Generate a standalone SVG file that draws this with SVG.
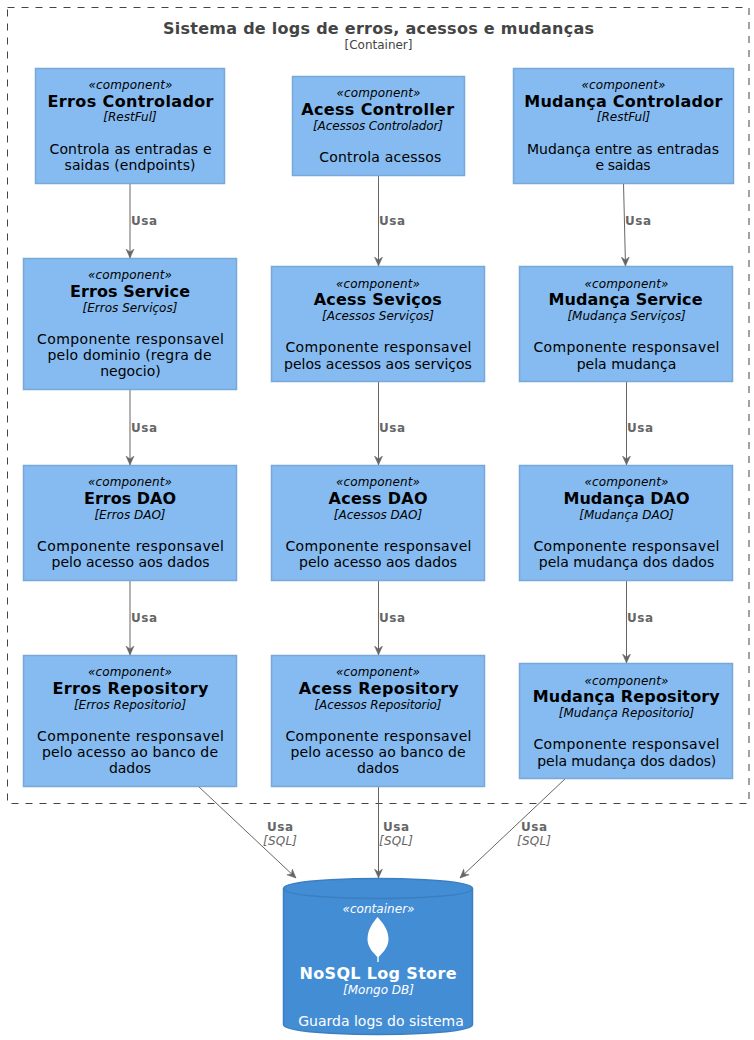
<svg xmlns="http://www.w3.org/2000/svg" width="754" height="1040" viewBox="0 0 754 1040">
<style>
text{font-family:"DejaVu Sans",sans-serif;text-anchor:middle;fill:#000}
.b{fill:#85BBF0;stroke:#78A8D8;stroke-width:1.5}
.s{font-size:12px;font-style:italic}
.n{font-size:16px;font-weight:bold}
.d{font-size:14px}
.c{fill:none;stroke:#666;stroke-width:1}
.u{font-size:12px;font-weight:bold;fill:#666;text-anchor:start}
.q{font-size:12px;font-style:italic;fill:#666;text-anchor:start}
</style>
<defs>
<marker id="a" markerUnits="userSpaceOnUse" markerWidth="10" markerHeight="10" refX="9" refY="5" orient="auto"><path d="M0 1 L9 5 L0 9 L3 5 Z" fill="#666" stroke="#666" stroke-width="0.5"/></marker>
</defs>
<g id="boundary">
<rect x="7.5" y="7.5" width="741.5" height="796" fill="none" stroke="#444" stroke-width="1" stroke-dasharray="7 7"/>
<text x="378.500" y="34" font-size="16" font-weight="bold" textLength="431" style="fill:#444">Sistema de logs de erros, acessos e mudanças</text>
<text x="378.500" y="49" font-size="12" style="fill:#444">[Container]</text>
</g>
<g id="connectors">
<path class="c" marker-end="url(#a)" d="M130 183V258"/>
<path class="c" marker-end="url(#a)" d="M130 389V465"/>
<path class="c" marker-end="url(#a)" d="M130 580V655"/>
<path class="c" marker-end="url(#a)" d="M378.500 175V266"/>
<path class="c" marker-end="url(#a)" d="M378.500 381V465"/>
<path class="c" marker-end="url(#a)" d="M378.500 580V655"/>
<path class="c" marker-end="url(#a)" d="M623.500 183L625.500 266"/>
<path class="c" marker-end="url(#a)" d="M626.500 381V465"/>
<path class="c" marker-end="url(#a)" d="M626.500 580V663"/>
<path class="c" marker-end="url(#a)" d="M198 786L296 878"/>
<path class="c" marker-end="url(#a)" d="M378.500 786V878"/>
<path class="c" marker-end="url(#a)" d="M566 778L460 878"/>
<text class="u" x="131" y="225" textLength="26">Usa</text>
<text class="u" x="131" y="432" textLength="26">Usa</text>
<text class="u" x="131" y="622" textLength="26">Usa</text>
<text class="u" x="379" y="225" textLength="26">Usa</text>
<text class="u" x="379" y="432" textLength="26">Usa</text>
<text class="u" x="379" y="622" textLength="26">Usa</text>
<text class="u" x="625" y="225" textLength="26">Usa</text>
<text class="u" x="627" y="432" textLength="26">Usa</text>
<text class="u" x="627" y="622" textLength="26">Usa</text>
<text class="u" x="267" y="831" textLength="26">Usa</text>
<text class="q" x="263" y="845" textLength="34">[SQL]</text>
<text class="u" x="383" y="831" textLength="26">Usa</text>
<text class="q" x="379" y="845" textLength="34">[SQL]</text>
<text class="u" x="521" y="831" textLength="26">Usa</text>
<text class="q" x="517" y="845" textLength="34">[SQL]</text>
</g>
<g id="erros-controlador"><rect class="b" x="35.500" y="68.500" width="189" height="115"/>
<text class="s" x="130.500" y="89" textLength="84">«component»</text><text class="n" x="130.500" y="107" textLength="166">Erros Controlador</text><text class="s" x="130" y="121">[RestFul]</text><text class="d" x="130.500" y="154" textLength="162">Controla as entradas e</text><text class="d" x="130" y="170" textLength="131">saidas (endpoints)</text></g>
<g id="acess-controller"><rect class="b" x="292.500" y="76.500" width="172" height="99"/>
<text class="s" x="378.500" y="97" textLength="84">«component»</text><text class="n" x="377.700" y="115" textLength="153">Acess Controller</text><text class="s" x="378" y="130" textLength="130">[Acessos Controlador]</text><text class="d" x="380.300" y="162" textLength="122">Controla acessos</text></g>
<g id="mudanca-controlador"><rect class="b" x="513.500" y="68.500" width="220" height="115"/>
<text class="s" x="623.500" y="89" textLength="84">«component»</text><text class="n" x="623.300" y="107" textLength="198">Mudança Controlador</text><text class="s" x="623.500" y="121">[RestFul]</text><text class="d" x="623" y="154" textLength="192">Mudança entre as entradas</text><text class="d" x="623" y="170" textLength="55">e saidas</text></g>
<g id="erros-service"><rect class="b" x="23.500" y="258.500" width="213" height="131"/>
<text class="s" x="130" y="279" textLength="84">«component»</text><text class="n" x="130" y="297" textLength="120">Erros Service</text><text class="s" x="130" y="312">[Erros Serviços]</text><text class="d" x="130.500" y="344" textLength="187">Componente responsavel</text><text class="d" x="129.500" y="360" textLength="164">pelo dominio (regra de</text><text class="d" x="130.500" y="376">negocio)</text></g>
<g id="acess-servicos"><rect class="b" x="271.500" y="266.500" width="213" height="115"/>
<text class="s" x="378" y="288" textLength="84">«component»</text><text class="n" x="377.700" y="305" textLength="128">Acess Seviços</text><text class="s" x="378" y="320">[Acessos Serviços]</text><text class="d" x="378.500" y="352" textLength="186">Componente responsavel</text><text class="d" x="378" y="369">pelos acessos aos serviços</text></g>
<g id="mudanca-service"><rect class="b" x="519.500" y="266.500" width="213" height="115"/>
<text class="s" x="626.500" y="288" textLength="84">«component»</text><text class="n" x="625.500" y="305" textLength="154">Mudança Service</text><text class="s" x="626.500" y="320">[Mudança Serviços]</text><text class="d" x="626.500" y="352" textLength="186">Componente responsavel</text><text class="d" x="626.500" y="369">pela mudança</text></g>
<g id="erros-dao"><rect class="b" x="23.500" y="465.500" width="213" height="115"/>
<text class="s" x="130" y="486" textLength="84">«component»</text><text class="n" x="130" y="504">Erros DAO</text><text class="s" x="130" y="519">[Erros DAO]</text><text class="d" x="130.500" y="551" textLength="187">Componente responsavel</text><text class="d" x="130.500" y="567">pelo acesso aos dados</text></g>
<g id="acess-dao"><rect class="b" x="271.500" y="465.500" width="213" height="115"/>
<text class="s" x="378" y="486" textLength="84">«component»</text><text class="n" x="378" y="504" textLength="99">Acess DAO</text><text class="s" x="378" y="519">[Acessos DAO]</text><text class="d" x="378.500" y="551" textLength="186">Componente responsavel</text><text class="d" x="378" y="567">pelo acesso aos dados</text></g>
<g id="mudanca-dao"><rect class="b" x="519.500" y="465.500" width="213" height="115"/>
<text class="s" x="626.500" y="486" textLength="84">«component»</text><text class="n" x="626.500" y="504">Mudança DAO</text><text class="s" x="626.500" y="519">[Mudança DAO]</text><text class="d" x="626.500" y="551" textLength="186">Componente responsavel</text><text class="d" x="626.500" y="567">pela mudança dos dados</text></g>
<g id="erros-repository"><rect class="b" x="23.500" y="655.500" width="213" height="131"/>
<text class="s" x="130" y="676" textLength="84">«component»</text><text class="n" x="130.500" y="694" textLength="156">Erros Repository</text><text class="s" x="130" y="709">[Erros Repositorio]</text><text class="d" x="130.500" y="741" textLength="187">Componente responsavel</text><text class="d" x="130" y="757" textLength="176">pelo acesso ao banco de</text><text class="d" x="130" y="773">dados</text></g>
<g id="acess-repository"><rect class="b" x="271.500" y="655.500" width="213" height="131"/>
<text class="s" x="378" y="676" textLength="84">«component»</text><text class="n" x="378.800" y="694" textLength="160">Acess Repository</text><text class="s" x="378" y="709" textLength="127">[Acessos Repositorio]</text><text class="d" x="378.500" y="741" textLength="186">Componente responsavel</text><text class="d" x="378" y="757" textLength="175">pelo acesso ao banco de</text><text class="d" x="378" y="773">dados</text></g>
<g id="mudanca-repository"><rect class="b" x="519.500" y="663.500" width="213" height="115"/>
<text class="s" x="626.500" y="685" textLength="84">«component»</text><text class="n" x="626.300" y="702" textLength="187">Mudança Repository</text><text class="s" x="626.500" y="717">[Mudança Repositorio]</text><text class="d" x="626.500" y="749" textLength="186">Componente responsavel</text><text class="d" x="626.800" y="766" textLength="179">pela mudança dos dados)</text></g>
<g id="nosql-log-store">
<path d="M283.500 888.500C283.500 878.500 378 878.500 378 878.500S472.500 878.500 472.500 888.500V1024.500C472.500 1034.500 378 1034.500 378 1034.500S283.500 1034.500 283.500 1024.500Z" fill="#438DD5" stroke="#3C7FC0" stroke-width="1.5"/>
<path d="M283.500 888.500C283.500 898.500 378 898.500 378 898.500S472.500 898.500 472.500 888.500" fill="none" stroke="#3C7FC0" stroke-width="1.500"/>
<text class="s" x="378.500" y="913" textLength="72" style="fill:#fff">«container»</text>
<path d="M377.500 917C382 922 388.500 929 388.500 939C388.500 948 382 953 378.700 957V962H377.300V957C374 953 367.500 948 367.500 939C367.500 929 373.500 922 377.500 917Z" fill="#fff"/>
<text class="n" x="378" y="979" textLength="157" style="fill:#fff">NoSQL Log Store</text>
<text class="s" x="378.500" y="994" style="fill:#fff">[Mongo DB]</text>
<text class="d" x="381" y="1026" style="fill:#fff">Guarda logs do sistema</text>
</g>
</svg>
